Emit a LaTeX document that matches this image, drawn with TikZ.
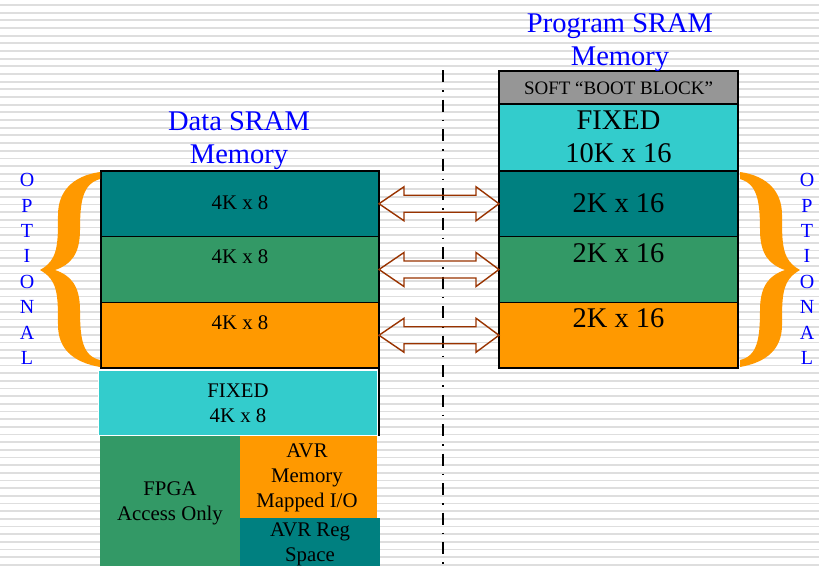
\documentclass[tikz,border=0pt]{standalone}
\usepackage{fontspec}
\setmainfont{Liberation Serif}
\usetikzlibrary{calc}
\definecolor{memteal}{RGB}{0,128,128}
\definecolor{memgreen}{RGB}{51,153,102}
\definecolor{memorange}{RGB}{255,153,0}
\definecolor{memcyan}{RGB}{51,204,204}
\definecolor{memgray}{RGB}{150,150,150}
\definecolor{ttlblue}{RGB}{0,0,255}
\definecolor{linkbrown}{RGB}{153,51,0}
\definecolor{ruled}{RGB}{222,222,222}

\begin{document}
\begin{tikzpicture}[x=1pt,y=-1pt,
  ruling/.style={draw=ruled, line width=1.8pt},
  bank/.style={draw=black, line width=1.1pt, inner sep=0pt, outer sep=0pt, anchor=north west},
  plain/.style={inner sep=0pt, outer sep=0pt, anchor=north west},
  small/.style={font=\fontsize{20.8}{25}\selectfont, align=center, inner sep=0pt},
  big/.style={font=\fontsize{28.5}{33}\selectfont, align=center, inner sep=0pt},
  title/.style={big, text=ttlblue},
  vert/.style={font=\fontsize{20}{25.4}\selectfont, align=center, inner sep=0pt, text=ttlblue},
  duplex/.style={draw=linkbrown, line width=1.4pt, line join=miter},
  axisline/.style={line width=1.3pt, dash pattern=on 12pt off 8pt on 1.5pt off 8pt},
  optbrace/.pic={
    \fill[memorange] (100,172) .. controls (72,176) and (58,192) .. (58,215)
      .. controls (58,245) and (58,260) .. (40,270)
      .. controls (58,280) and (58,295) .. (58,325)
      .. controls (58,348) and (72,362) .. (100,367)
      -- (100,360)
      .. controls (83,356) and (80,340) .. (80,310)
      .. controls (80,285) and (70,275) .. (55,270)
      .. controls (70,265) and (80,255) .. (80,230)
      .. controls (80,200) and (83,184) .. (100,179) -- cycle;
  }
]
\useasboundingbox (0,0) rectangle (819,566);
\fill[white] (0,0) rectangle (819,566);
% ruled paper
\foreach \k in {0,...,73} \draw[ruling] (0,{5+7.67*\k}) -- (819,{5+7.67*\k});

% centre dash-dot divider
\coordinate (axtop) at (443,70);
\coordinate (axbot) at (443,566);
\draw[axisline] (axtop) -- (axbot);

% ---- data SRAM ----
\node[bank, fill=memteal,   minimum width=278pt, minimum height=65.5pt] (d1) at (101,171) {};
\node[bank, fill=memgreen,  minimum width=278pt, minimum height=66pt]   (d2) at (101,236.5) {};
\node[bank, fill=memorange, minimum width=278pt, minimum height=65.5pt] (d3) at (101,302.5) {};
\node[plain, fill=memcyan, draw=white, line width=0.6pt, minimum width=279pt, minimum height=65pt] (dfix) at (98,370) {};
\draw[line width=1.1pt] (d3.south east) -- ++(0,68);
\node[plain, fill=memgreen,  minimum width=140pt, minimum height=130pt] (fpga) at (100,436) {};
\node[plain, fill=memorange, minimum width=137pt, minimum height=82pt]  (mmio) at (240,436) {};
\node[plain, fill=memteal,   minimum width=140pt, minimum height=48pt]  (regs) at (240,518) {};

\node[small] (t1) at (240,203) {4K x 8};
\node[small] (t2) at (240,257) {4K x 8};
\node[small] (t3) at (240,323) {4K x 8};
\node[small] (tfix) at (238,403) {FIXED\\4K x 8};
\node[small] (tfpga) at (170,503) {FPGA\\Access Only};
\node[small] (tmmio) at (307,478) {AVR\\Memory\\Mapped I/O};
\node[small] (tregs) at (310,544.5) {AVR Reg\\Space};

% ---- program SRAM ----
\node[bank, fill=memgray,   minimum width=239pt, minimum height=33pt]   (boot) at (499,71) {};
\node[bank, fill=memcyan,   minimum width=239pt, minimum height=67pt]   (pfix) at (499,104) {};
\node[bank, fill=memteal,   minimum width=239pt, minimum height=65.5pt] (p1) at (499,171) {};
\node[bank, fill=memgreen,  minimum width=239pt, minimum height=66pt]   (p2) at (499,236.5) {};
\node[bank, fill=memorange, minimum width=239pt, minimum height=65.5pt] (p3) at (499,302.5) {};

\node[font=\fontsize{19}{22}\selectfont, inner sep=0pt] (tboot) at (618.5,88) {SOFT “BOOT BLOCK”};
\node[big] (tpfix) at (618.5,136.5) {FIXED\\10K x 16};
\node[big] (u1) at (618.5,203) {2K x 16};
\node[big] (u2) at (618.5,253) {2K x 16};
\node[big] (u3) at (618.5,318) {2K x 16};

% ---- titles ----
\node[title] (dtitle) at (239,140.3) {Data SRAM\\Memory};
\node[title] (ptitle) at (620,42.3) {Program SRAM\\Memory};

% ---- optional banks ----
\node[vert] (optl) at (27,269) {O\\P\\T\\I\\O\\N\\A\\L};
\node[vert] (optr) at (807,269) {O\\P\\T\\I\\O\\N\\A\\L};
\pic (bl) at (0,0) {optbrace};
\pic[xscale=-1] (br) at (840,0) {optbrace};

% ---- two-way links between banks ----
\foreach \a/\b in {d1/p1,d2/p2,d3/p3}
  \draw[duplex] (\a.east) -- ++(25,-17) -- ++(0,8.5) -- ($(\b.west)+(-23,-8.5)$)
    -- ++(0,-8.5) -- (\b.west) -- ++(-23,17) -- ++(0,-8.5)
    -- ($(\a.east)+(25,8.5)$) -- ++(0,8.5) -- cycle;
\end{tikzpicture}
\end{document}
